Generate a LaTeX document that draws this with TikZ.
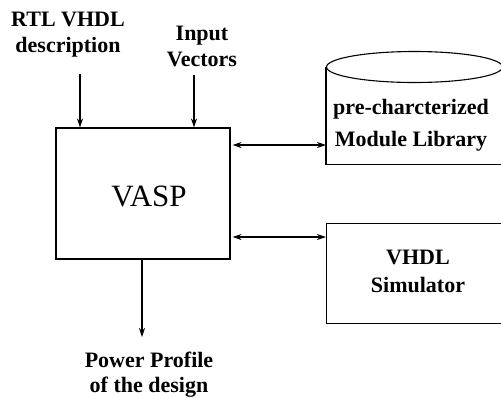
\documentclass[tikz,border=0pt]{standalone}
\usepackage{fontspec}
\setmainfont{Liberation Serif}
\usetikzlibrary{arrows.meta}
\begin{document}
\begin{tikzpicture}[x=1pt,y=-1pt,
  line width=1.1pt,
  lbl/.style={font=\bfseries\fontsize{22}{26}\selectfont, align=center, inner sep=0pt},
  block/.style={draw, line width=1.1pt, inner sep=0pt},
  tip/.style={-{Stealth[length=9pt,width=6pt]}},
  bitip/.style={{Stealth[length=9pt,width=6pt]}-{Stealth[length=9pt,width=6pt]}}]
\useasboundingbox (0,0) rectangle (501,397);
\clip (0,0) rectangle (501,397);

% input labels and their arrow starts
\node[lbl] (rtl) at (68,35) {RTL VHDL\\description};
\node[lbl] (vec) at (202,46) {Input\\Vectors};
\coordinate (rtlstart) at (80,74);
\coordinate (vecstart) at (194,75);

% main tool block
\node[block, minimum width=174pt, minimum height=131pt] (vasp) at (143,193.5) {};
\node[font=\fontsize{31}{36}\selectfont, inner sep=0pt] (vasptext) at (149,196) {VASP};

% module library cylinder
\node[minimum width=190pt, minimum height=96pt, anchor=north west, inner sep=0pt] (lib) at (326,67) {};
\draw (lib.north west) -- (lib.south west) -- (lib.south east);
\draw (414.5,67) ellipse [x radius=88, y radius=15.5];
\node[lbl, font=\bfseries\fontsize{22}{32}\selectfont] (libtext) at (411,125) {pre-charcterized\\Module Library};

% simulator block
\node[block, minimum width=190pt, minimum height=100pt, anchor=north west] (sim) at (326,223) {};
\node[lbl, font=\bfseries\fontsize{22}{28}\selectfont] (simtext) at (418,271) {VHDL\\Simulator};

% output
\coordinate (outend) at (142,337);
\node[lbl, font=\bfseries\fontsize{22}{25}\selectfont] (power) at (149,375) {Power Profile\\of the design};

% connectors
\draw[tip] (rtlstart) -- (rtlstart |- vasp.north);
\draw[tip] (vecstart) -- (vecstart |- vasp.north);
\draw[tip] (outend |- vasp.south) -- (outend);
\draw[bitip, shorten <=2pt] (vasp.east |- 0,145) -- (lib.west |- 0,145);
\draw[bitip, shorten <=2pt] (vasp.east |- 0,237) -- (sim.west |- 0,237);
\end{tikzpicture}
\end{document}
